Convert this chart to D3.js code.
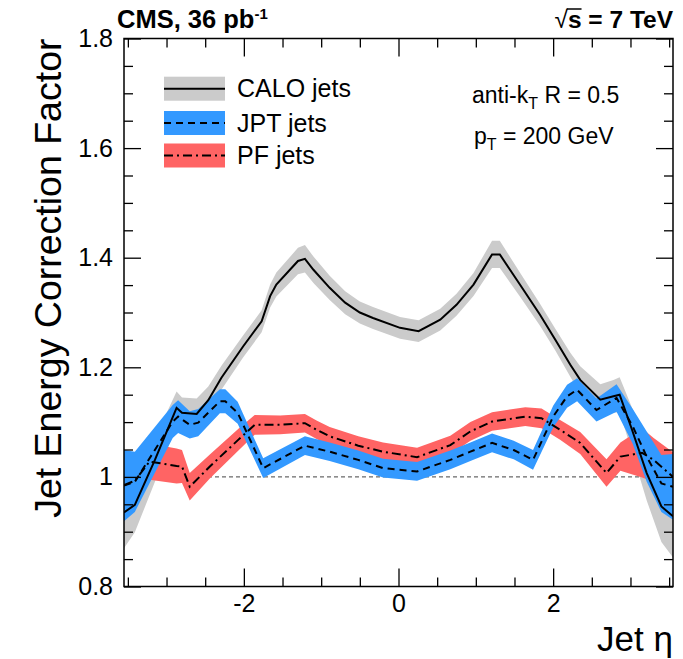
<!DOCTYPE html>
<html><head><meta charset="utf-8">
<script src="https://cdn.jsdelivr.net/npm/d3@7"></script>
<style>body{margin:0;background:#fff} text{font-family:"Liberation Sans",Arial,Helvetica,sans-serif}</style>
</head><body><svg id="c" width="683" height="659"></svg>
<script>
// ---------- data ----------
const etaCalo = [-3.55,-3.41,-3.15,-2.87,-2.80,-2.61,-2.46,-2.29,-2.01,-1.77,-1.66,-1.58,-1.30,-1.21,-1.10,-0.89,-0.69,-0.50,-0.33,0.02,0.26,0.54,0.75,0.97,1.21,1.31,1.57,1.83,2.03,2.22,2.35,2.61,2.78,2.86,3.02,3.21,3.40,3.55];
const valCalo = [0.935,0.949,1.031,1.126,1.117,1.115,1.140,1.181,1.238,1.284,1.330,1.351,1.394,1.398,1.378,1.345,1.318,1.300,1.290,1.272,1.266,1.287,1.314,1.351,1.406,1.406,1.351,1.296,1.250,1.205,1.177,1.141,1.147,1.150,1.086,1.007,0.946,0.928];
const errCalo = [0.065,0.050,0.040,0.030,0.028,0.028,0.025,0.022,0.020,0.020,0.021,0.022,0.024,0.025,0.024,0.022,0.021,0.020,0.020,0.020,0.020,0.020,0.020,0.021,0.025,0.025,0.022,0.020,0.020,0.022,0.025,0.028,0.030,0.032,0.040,0.050,0.065,0.075];

const etaJpt = [-3.55,-3.41,-2.92,-2.85,-2.70,-2.59,-2.31,-2.24,-2.08,-1.75,-1.21,-0.89,-0.52,-0.20,0.24,0.67,0.93,1.21,1.49,1.74,2.00,2.18,2.31,2.56,2.82,3.03,3.21,3.40,3.55];
const valJpt = [0.984,0.991,1.101,1.110,1.095,1.099,1.138,1.138,1.117,1.016,1.057,1.046,1.031,1.016,1.010,1.031,1.046,1.062,1.049,1.031,1.110,1.147,1.159,1.122,1.144,1.092,1.037,0.988,0.982];
const errJpt = [0.065,0.055,0.030,0.030,0.025,0.025,0.022,0.022,0.020,0.018,0.017,0.017,0.017,0.017,0.017,0.017,0.017,0.017,0.017,0.018,0.020,0.021,0.021,0.021,0.025,0.032,0.046,0.052,0.060];

const etaPf = [-3.55,-3.41,-3.22,-2.87,-2.80,-2.70,-2.44,-2.07,-1.86,-1.53,-1.21,-1.06,-0.89,-0.52,-0.20,0.24,0.67,0.93,1.21,1.64,1.85,2.09,2.35,2.69,2.87,3.15,3.30,3.55];
const valPf = [0.985,0.993,1.028,1.020,1.019,0.982,1.019,1.068,1.095,1.095,1.098,1.086,1.074,1.057,1.046,1.036,1.058,1.083,1.101,1.110,1.107,1.086,1.062,1.007,1.037,1.044,1.031,1.000];
const errPf = [0.035,0.035,0.033,0.032,0.030,0.025,0.022,0.020,0.018,0.017,0.017,0.017,0.017,0.017,0.017,0.017,0.017,0.017,0.017,0.017,0.018,0.018,0.020,0.025,0.026,0.045,0.040,0.045];

const xMajor = [-2,0,2];
const xMinor = [-3.5,-3,-2.5,-1.5,-1,-0.5,0.5,1,1.5,2.5,3,3.5];
const yMajor = [0.8,1.0,1.2,1.4,1.6,1.8];
const yMajorLabels = ["0.8","1","1.2","1.4","1.6","1.8"];
const xMajorLabels = ["-2","0","2"];
const legendLabels = ["CALO jets","JPT jets","PF jets"];

// ---------- setup ----------
const svg = d3.select("#c");
const L = 124, R = 673, T = 38.5, B = 586.5;
const x = d3.scaleLinear().domain([-3.55,3.55]).range([L,R]);
const y = d3.scaleLinear().domain([0.8,1.8]).range([B,T]);
const FONT = '"Liberation Sans",Arial,Helvetica,sans-serif';

const series = [
  {eta:etaCalo, v:valCalo, e:errCalo, fill:"#cbcbcb", dash:null},
  {eta:etaPf, v:valPf, e:errPf, fill:"#ff6464", dash:"9,4,2,4"},
  {eta:etaJpt, v:valJpt, e:errJpt, fill:"#3399ff", dash:"7,5"}
];

const plot = svg.append("g");
plot.append("defs").append("clipPath").attr("id","clip")
  .append("rect").attr("x",L).attr("y",T).attr("width",R-L).attr("height",B-T);
const g = plot.append("g").attr("clip-path","url(#clip)");

// reference line at 1
g.append("line").attr("x1",x(-3.55)).attr("x2",x(3.55)).attr("y1",y(1)).attr("y2",y(1))
  .attr("stroke","#444").attr("stroke-width",1).attr("stroke-dasharray","4,3");

// bands
series.forEach(s => {
  const pts = s.eta.map((e,i)=>({e, v:s.v[i], err:s.e[i]}));
  const area = d3.area().x(d=>x(d.e)).y0(d=>y(d.v-d.err)).y1(d=>y(d.v+d.err));
  g.append("path").datum(pts).attr("d",area).attr("fill",s.fill).attr("stroke","none");
});
// lines
const drawOrder = [series[0], series[2], series[1]];
drawOrder.forEach(s => {
  const pts = s.eta.map((e,i)=>({e, v:s.v[i]}));
  const line = d3.line().x(d=>x(d.e)).y(d=>y(d.v));
  g.append("path").datum(pts).attr("d",line).attr("fill","none").attr("stroke","#000")
    .attr("stroke-width",2).attr("stroke-dasharray",s.dash);
});

// ---------- axes ----------
function styleAxis(sel){ sel.select(".domain").remove(); sel.selectAll("line").attr("stroke","#000").attr("stroke-width",1.3); sel.selectAll("text").attr("font-family",FONT).attr("font-size",25).attr("fill","#000"); }
const yMinorVals = d3.range(17,36).map(i=>i*0.05).filter(v=>Math.round(v*100)%20!==0);
svg.append("g").attr("transform",`translate(${L},0)`).call(d3.axisLeft(y).tickValues(yMajor).tickSizeInner(-17).tickPadding(11).tickFormat((d,i)=>yMajorLabels[i])).call(styleAxis);
svg.append("g").attr("transform",`translate(${L},0)`).call(d3.axisLeft(y).tickValues(yMinorVals).tickSizeInner(-9).tickFormat("")).call(styleAxis);
svg.append("g").attr("transform",`translate(${R},0)`).call(d3.axisRight(y).tickValues(yMajor).tickSizeInner(-17).tickFormat("")).call(styleAxis);
svg.append("g").attr("transform",`translate(${R},0)`).call(d3.axisRight(y).tickValues(yMinorVals).tickSizeInner(-9).tickFormat("")).call(styleAxis);
svg.append("g").attr("transform",`translate(0,${B})`).call(d3.axisBottom(x).tickValues(xMajor).tickSizeInner(-18).tickPadding(8).tickFormat((d,i)=>xMajorLabels[i])).call(styleAxis);
svg.append("g").attr("transform",`translate(0,${B})`).call(d3.axisBottom(x).tickValues(xMinor).tickSizeInner(-9).tickFormat("")).call(styleAxis);
svg.append("g").attr("transform",`translate(0,${T})`).call(d3.axisTop(x).tickValues(xMajor).tickSizeInner(-18).tickFormat("")).call(styleAxis);
svg.append("g").attr("transform",`translate(0,${T})`).call(d3.axisTop(x).tickValues(xMinor).tickSizeInner(-9).tickFormat("")).call(styleAxis);

// frame
svg.append("rect").attr("x",L).attr("y",T).attr("width",R-L).attr("height",B-T)
  .attr("fill","none").attr("stroke","#000").attr("stroke-width",1.5);

// axis titles
svg.append("text").attr("transform",`translate(61,${T}) rotate(-90)`).attr("text-anchor","end")
  .attr("font-size",37.5).text("Jet Energy Correction Factor");
svg.append("text").attr("x",R).attr("y",651).attr("text-anchor","end").attr("font-size",35).text("Jet η");

// header
const h1 = svg.append("text").attr("x",117).attr("y",28).attr("font-size",25.5).attr("font-weight","bold");
h1.append("tspan").text("CMS, 36 pb");
h1.append("tspan").attr("dy",-9).attr("font-size",15).text("-1");
const h2 = svg.append("text").attr("x",R).attr("y",28).attr("font-size",24.5).attr("font-weight","bold").attr("text-anchor","end");
h2.append("tspan").attr("font-weight","normal").text("√");
h2.append("tspan").attr("id","sq").text("s");
h2.append("tspan").text(" = 7 TeV");
const sq = document.getElementById("sq");
const bb = sq.getBBox();
svg.append("line").attr("x1",bb.x-1).attr("x2",bb.x+bb.width).attr("y1",bb.y+3).attr("y2",bb.y+3).attr("stroke","#000").attr("stroke-width",1.5);

// legend
const legY = [88.7, 123, 155.5];
const legSeries = [series[0], series[2], series[1]];
legSeries.forEach((s,i)=>{
  svg.append("rect").attr("x",164).attr("y",legY[i]-12).attr("width",61).attr("height",24).attr("fill",s.fill);
  svg.append("line").attr("x1",164).attr("x2",225).attr("y1",legY[i]).attr("y2",legY[i]).attr("stroke","#000").attr("stroke-width",2).attr("stroke-dasharray",s.dash);
  svg.append("text").attr("x",237).attr("y",legY[i]+8.5).attr("font-size",25).text(legendLabels[i]);
});

// annotations
const a1 = svg.append("text").attr("x",472).attr("y",103).attr("font-size",23);
a1.append("tspan").text("anti-k");
a1.append("tspan").attr("dy",6).attr("font-size",16).text("T");
a1.append("tspan").attr("dy",-6).text(" R = 0.5");
const a2 = svg.append("text").attr("x",474).attr("y",144).attr("font-size",23);
a2.append("tspan").text("p");
a2.append("tspan").attr("dy",6).attr("font-size",16).text("T");
a2.append("tspan").attr("dy",-6).text(" = 200 GeV");
</script></body></html>
